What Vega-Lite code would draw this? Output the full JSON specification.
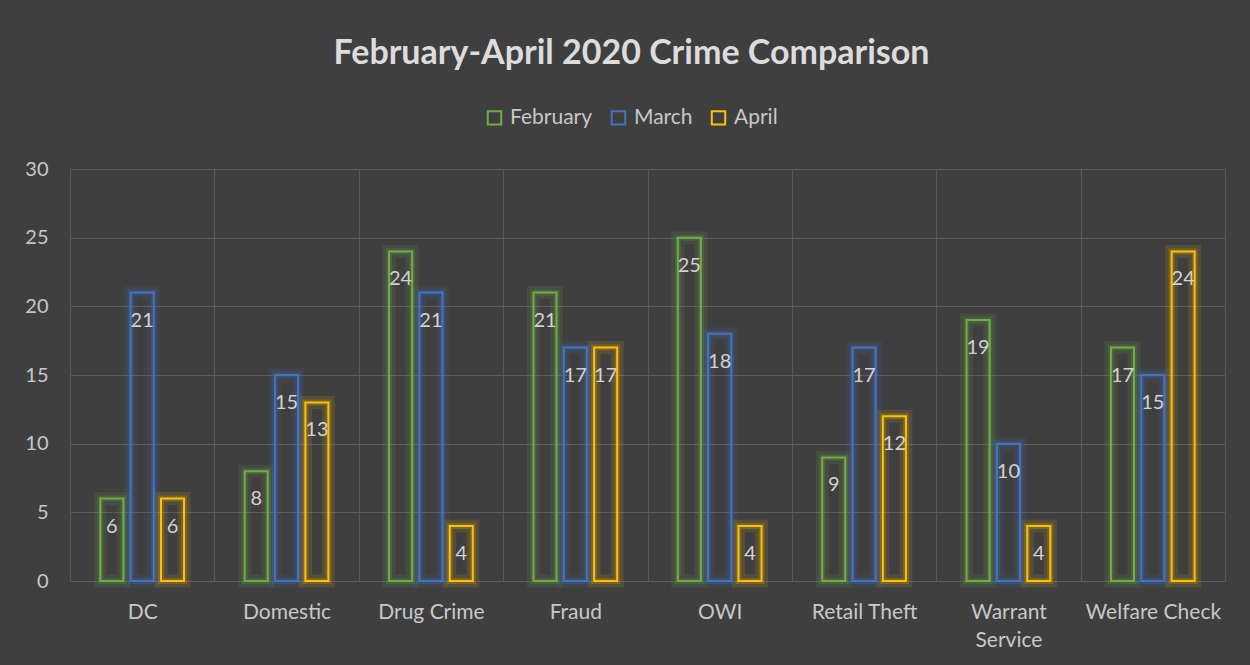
{
  "$schema": "https://vega.github.io/schema/vega-lite/v6.json",
  "width": 1155,
  "height": 412,
  "autosize": "none",
  "padding": {"left": 70, "top": 169, "right": 25, "bottom": 84},
  "background": "#3f3f3f",
  "title": {
    "text": "February-April 2020 Crime Comparison",
    "color": "#dcdcdc",
    "font": "Lato",
    "fontSize": 34,
    "fontWeight": "bold",
    "anchor": "middle",
    "offset": 36,
    "dx": -16
  },
  "config": {
    "view": {"stroke": null},
    "font": "Lato"
  },
  "data": {
    "values": [
      {"crime": "DC", "month": "February", "count": 6},
      {"crime": "DC", "month": "March", "count": 21},
      {"crime": "DC", "month": "April", "count": 6},
      {"crime": "Domestic", "month": "February", "count": 8},
      {"crime": "Domestic", "month": "March", "count": 15},
      {"crime": "Domestic", "month": "April", "count": 13},
      {"crime": "Drug Crime", "month": "February", "count": 24},
      {"crime": "Drug Crime", "month": "March", "count": 21},
      {"crime": "Drug Crime", "month": "April", "count": 4},
      {"crime": "Fraud", "month": "February", "count": 21},
      {"crime": "Fraud", "month": "March", "count": 17},
      {"crime": "Fraud", "month": "April", "count": 17},
      {"crime": "OWI", "month": "February", "count": 25},
      {"crime": "OWI", "month": "March", "count": 18},
      {"crime": "OWI", "month": "April", "count": 4},
      {"crime": "Retail Theft", "month": "February", "count": 9},
      {"crime": "Retail Theft", "month": "March", "count": 17},
      {"crime": "Retail Theft", "month": "April", "count": 12},
      {"crime": "Warrant Service", "month": "February", "count": 19},
      {"crime": "Warrant Service", "month": "March", "count": 10},
      {"crime": "Warrant Service", "month": "April", "count": 4},
      {"crime": "Welfare Check", "month": "February", "count": 17},
      {"crime": "Welfare Check", "month": "March", "count": 15},
      {"crime": "Welfare Check", "month": "April", "count": 24}
    ]
  },
  "encoding": {
    "x": {
      "field": "crime",
      "type": "nominal",
      "sort": null,
      "scale": {"paddingInner": 0, "paddingOuter": 0},
      "axis": {
        "title": null,
        "labelAngle": 0,
        "labelColor": "#c8c8c8",
        "labelFontSize": 21,
        "labelPadding": 20,
        "labelLineHeight": 28,
        "labelBaseline": "top",
        "labelExpr": "datum.label == 'Warrant Service' ? ['Warrant', 'Service'] : datum.label",
        "domain": false,
        "ticks": false,
        "grid": true,
        "tickBand": "extent",
        "gridColor": "#5a5a5a",
        "gridWidth": 1.2
      }
    },
    "xOffset": {
      "field": "month",
      "type": "nominal",
      "sort": ["February", "March", "April"],
      "scale": {"paddingInner": 0.24, "paddingOuter": 1.1}
    },
    "y": {
      "field": "count",
      "type": "quantitative",
      "scale": {"domain": [0, 30]},
      "axis": {
        "title": null,
        "values": [0, 5, 10, 15, 20, 25, 30],
        "labelColor": "#c8c8c8",
        "labelFontSize": 20,
        "labelPadding": 22,
        "domain": false,
        "ticks": false,
        "gridColor": "#5a5a5a",
        "gridWidth": 1.2
      }
    },
    "stroke": {
      "field": "month",
      "type": "nominal",
      "scale": {"domain": ["February", "March", "April"], "range": ["#70ad47", "#4472c4", "#ffc000"]},
      "legend": {
        "title": null,
        "orient": "none",
        "direction": "horizontal",
        "legendX": 414,
        "legendY": -62,
        "symbolType": "square",
        "symbolSize": 180,
        "symbolStrokeWidth": 2,
        "symbolFillColor": "transparent",
        "labelColor": "#c8c8c8",
        "labelFontSize": 21,
        "labelOffset": 5,
        "columnPadding": 14
      }
    }
  },
  "layer": [
    {
      "mark": {"type": "bar", "filled": false, "strokeWidth": 13, "strokeOpacity": 0.12}
    },
    {
      "mark": {"type": "bar", "filled": false, "strokeWidth": 6, "strokeOpacity": 0.2}
    },
    {
      "mark": {"type": "bar", "filled": false, "strokeWidth": 2}
    },
    {
      "mark": {"type": "text", "baseline": "middle", "dy": 28, "fontSize": 20, "fill": "#d2d2d2", "stroke": null},
      "encoding": {
        "text": {"field": "count", "type": "quantitative"},
        "stroke": {"value": null}
      }
    }
  ]
}
